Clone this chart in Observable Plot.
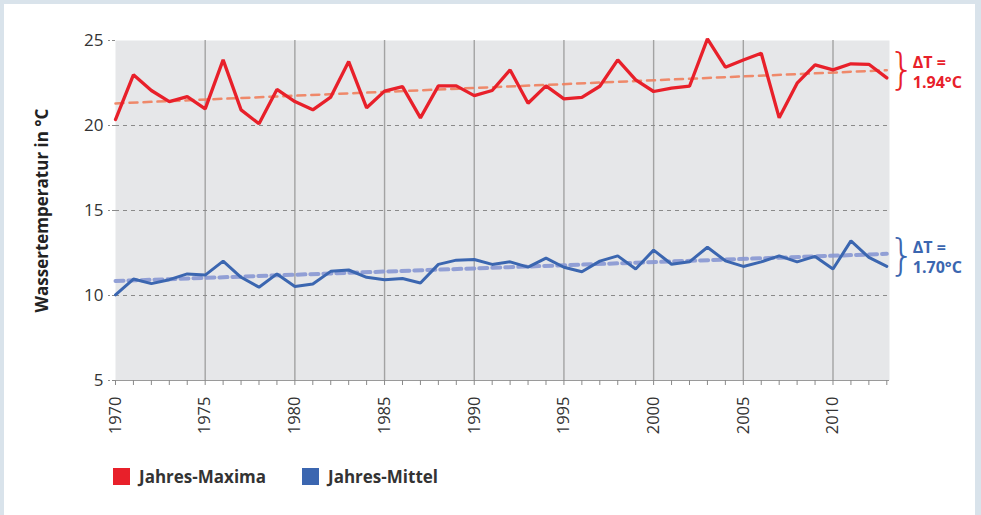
<!DOCTYPE html>
<html>
<head>
<meta charset="utf-8">
<script src="https://cdn.jsdelivr.net/npm/d3@7"></script>
<script src="https://cdn.jsdelivr.net/npm/@observablehq/plot@0.6"></script>
<style>
  html, body { margin: 0; padding: 0; }
  body { width: 981px; height: 515px; background: #d9e3eb; position: relative; overflow: hidden; font-family: "Open Sans", sans-serif; }
  #card { position: absolute; left: 4px; top: 4px; width: 971px; height: 515px; background: #fff; }
  #chart { position: absolute; left: 0; top: 0; }
  #chart svg { overflow: visible; }
  #legend { position: absolute; left: 113px; top: 465px; display: flex; align-items: center; font-weight: 700; font-size: 17px; color: #333; }
  .sw { width: 17px; height: 17px; display: inline-block; margin-right: 9px; }
  .item { display: flex; align-items: center; margin-right: 36px; }
</style>
</head>
<body>
<div id="card"></div>
<div id="chart"></div>
<div id="legend"></div>
<script>
const years = [1970,1971,1972,1973,1974,1975,1976,1977,1978,1979,1980,1981,1982,1983,1984,1985,1986,1987,1988,1989,1990,1991,1992,1993,1994,1995,1996,1997,1998,1999,2000,2001,2002,2003,2004,2005,2006,2007,2008,2009,2010,2011,2012,2013];
const maxima = [20.35,22.98,22.06,21.4,21.7,20.98,23.86,20.92,20.1,22.12,21.41,20.92,21.67,23.76,21.04,22.02,22.29,20.45,22.33,22.33,21.76,22.06,23.27,21.31,22.33,21.57,21.65,22.31,23.86,22.69,22.0,22.2,22.31,25.1,23.43,23.85,24.25,20.45,22.49,23.57,23.27,23.63,23.6,22.8];
const mittel = [10.04,10.97,10.70,10.93,11.27,11.2,12.02,11.07,10.49,11.27,10.53,10.68,11.42,11.5,11.07,10.92,11.0,10.74,11.83,12.08,12.12,11.83,11.98,11.67,12.2,11.66,11.4,12.02,12.33,11.56,12.67,11.84,11.98,12.84,12.04,11.71,11.98,12.33,11.98,12.3,11.56,13.21,12.24,11.71];
const trendYears = [1970, 2013];
const trendMax = [21.3, 23.25];
const trendMittel = [10.85, 12.45];
const seriesNames = ["Jahres-Maxima", "Jahres-Mittel"];
const deltaMax = ["ΔT =", "1.94°C"];
const deltaMittel = ["ΔT =", "1.70°C"];
const labelYears = [1970,1975,1980,1985,1990,1995,2000,2005,2010];
const yTicks = [5,10,15,20,25];

const RED = "#e8202a", BLUE = "#3b66b0";
const RED_T = "#f07e5c", BLUE_T = "#8797d3";

const maxData = years.map((y, i) => ({year: y, v: maxima[i]}));
const mitData = years.map((y, i) => ({year: y, v: mittel[i]}));
const tMax = trendYears.map((y, i) => ({year: y, v: trendMax[i]}));
const tMit = trendYears.map((y, i) => ({year: y, v: trendMittel[i]}));
const endMax = [tMax[1]], endMit = [tMit[1]];

const chart = Plot.plot({
  width: 981, height: 440,
  marginLeft: 115, marginRight: 92, marginTop: 40, marginBottom: 60,
  style: {fontFamily: "'Open Sans', sans-serif", color: "#333", background: "transparent"},
  x: {domain: [1970, 2013.15]},
  y: {domain: [5, 25]},
  marks: [
    Plot.frame({fill: "#e6e7e9", stroke: "none"}),
    Plot.ruleX(labelYears.slice(1), {stroke: "#a3a3a3", strokeWidth: 1.4}),
    Plot.ruleY([10, 15, 20], {stroke: "#8a8a8a", strokeDasharray: "4,4", strokeWidth: 1}),
    Plot.ruleY([5], {stroke: "#9a9a9a", strokeWidth: 1.2}),
    Plot.axisY({ticks: yTicks, tickSize: 7, tickPadding: 5, fontSize: 17, stroke: "#8a8a8a", strokeDasharray: "3,2",
      label: "Wassertemperatur in °C", labelAnchor: "center", labelArrow: "none", labelOffset: 80}),
    Plot.axisX({ticks: years, tickSize: 5, tickFormat: () => "", stroke: "#8a8a8a", label: null}),
    Plot.axisX({ticks: labelYears, tickSize: 0, tickPadding: 16, tickRotate: -90, tickFormat: d => String(d), fontSize: 16.5, label: null}),
    Plot.line(tMax, {x: "year", y: "v", stroke: RED_T, strokeWidth: 2.5, strokeDasharray: "8,6", strokeOpacity: 0.9}),
    Plot.line(tMit, {x: "year", y: "v", stroke: BLUE_T, strokeWidth: 4, strokeDasharray: "8,5", strokeOpacity: 0.9}),
    Plot.line(maxData, {x: "year", y: "v", stroke: RED, strokeWidth: 3.3, strokeLinejoin: "miter"}),
    Plot.line(mitData, {x: "year", y: "v", stroke: BLUE, strokeWidth: 3, strokeLinejoin: "miter"}),
    Plot.text(endMax, {x: "year", y: "v", text: () => "}", dx: 15, dy: 0, fontSize: 42, fontWeight: 300, fontFamily: "'DejaVu Sans', sans-serif", fill: RED}),
    Plot.text(endMax, {x: "year", y: "v", text: () => deltaMax[0], dx: 26, dy: -7, textAnchor: "start", fontSize: 16, fontWeight: 700, fill: RED}),
    Plot.text(endMax, {x: "year", y: "v", text: () => deltaMax[1], dx: 26, dy: 13, textAnchor: "start", fontSize: 16, fontWeight: 700, fill: RED}),
    Plot.text(endMit, {x: "year", y: "v", text: () => "}", dx: 15, dy: 3, fontSize: 42, fontWeight: 300, fontFamily: "'DejaVu Sans', sans-serif", fill: BLUE}),
    Plot.text(endMit, {x: "year", y: "v", text: () => deltaMittel[0], dx: 26, dy: -6, textAnchor: "start", fontSize: 16, fontWeight: 700, fill: BLUE}),
    Plot.text(endMit, {x: "year", y: "v", text: () => deltaMittel[1], dx: 26, dy: 14, textAnchor: "start", fontSize: 16, fontWeight: 700, fill: BLUE})
  ]
});
document.getElementById("chart").appendChild(chart);
d3.select(chart).selectAll('[aria-label="y-axis label"] text').attr("font-weight", 700).attr("font-size", 17).attr("fill", "#222");
d3.select(chart).selectAll('[aria-label="y-axis tick label"] text, [aria-label="x-axis tick label"] text').attr("fill", "#333");

const legend = document.getElementById("legend");
[[seriesNames[0], RED], [seriesNames[1], BLUE]].forEach(([name, c]) => {
  const it = document.createElement("div"); it.className = "item";
  const sw = document.createElement("span"); sw.className = "sw"; sw.style.background = c;
  const t = document.createElement("span"); t.textContent = name;
  it.appendChild(sw); it.appendChild(t); legend.appendChild(it);
});
</script>
</body>
</html>
